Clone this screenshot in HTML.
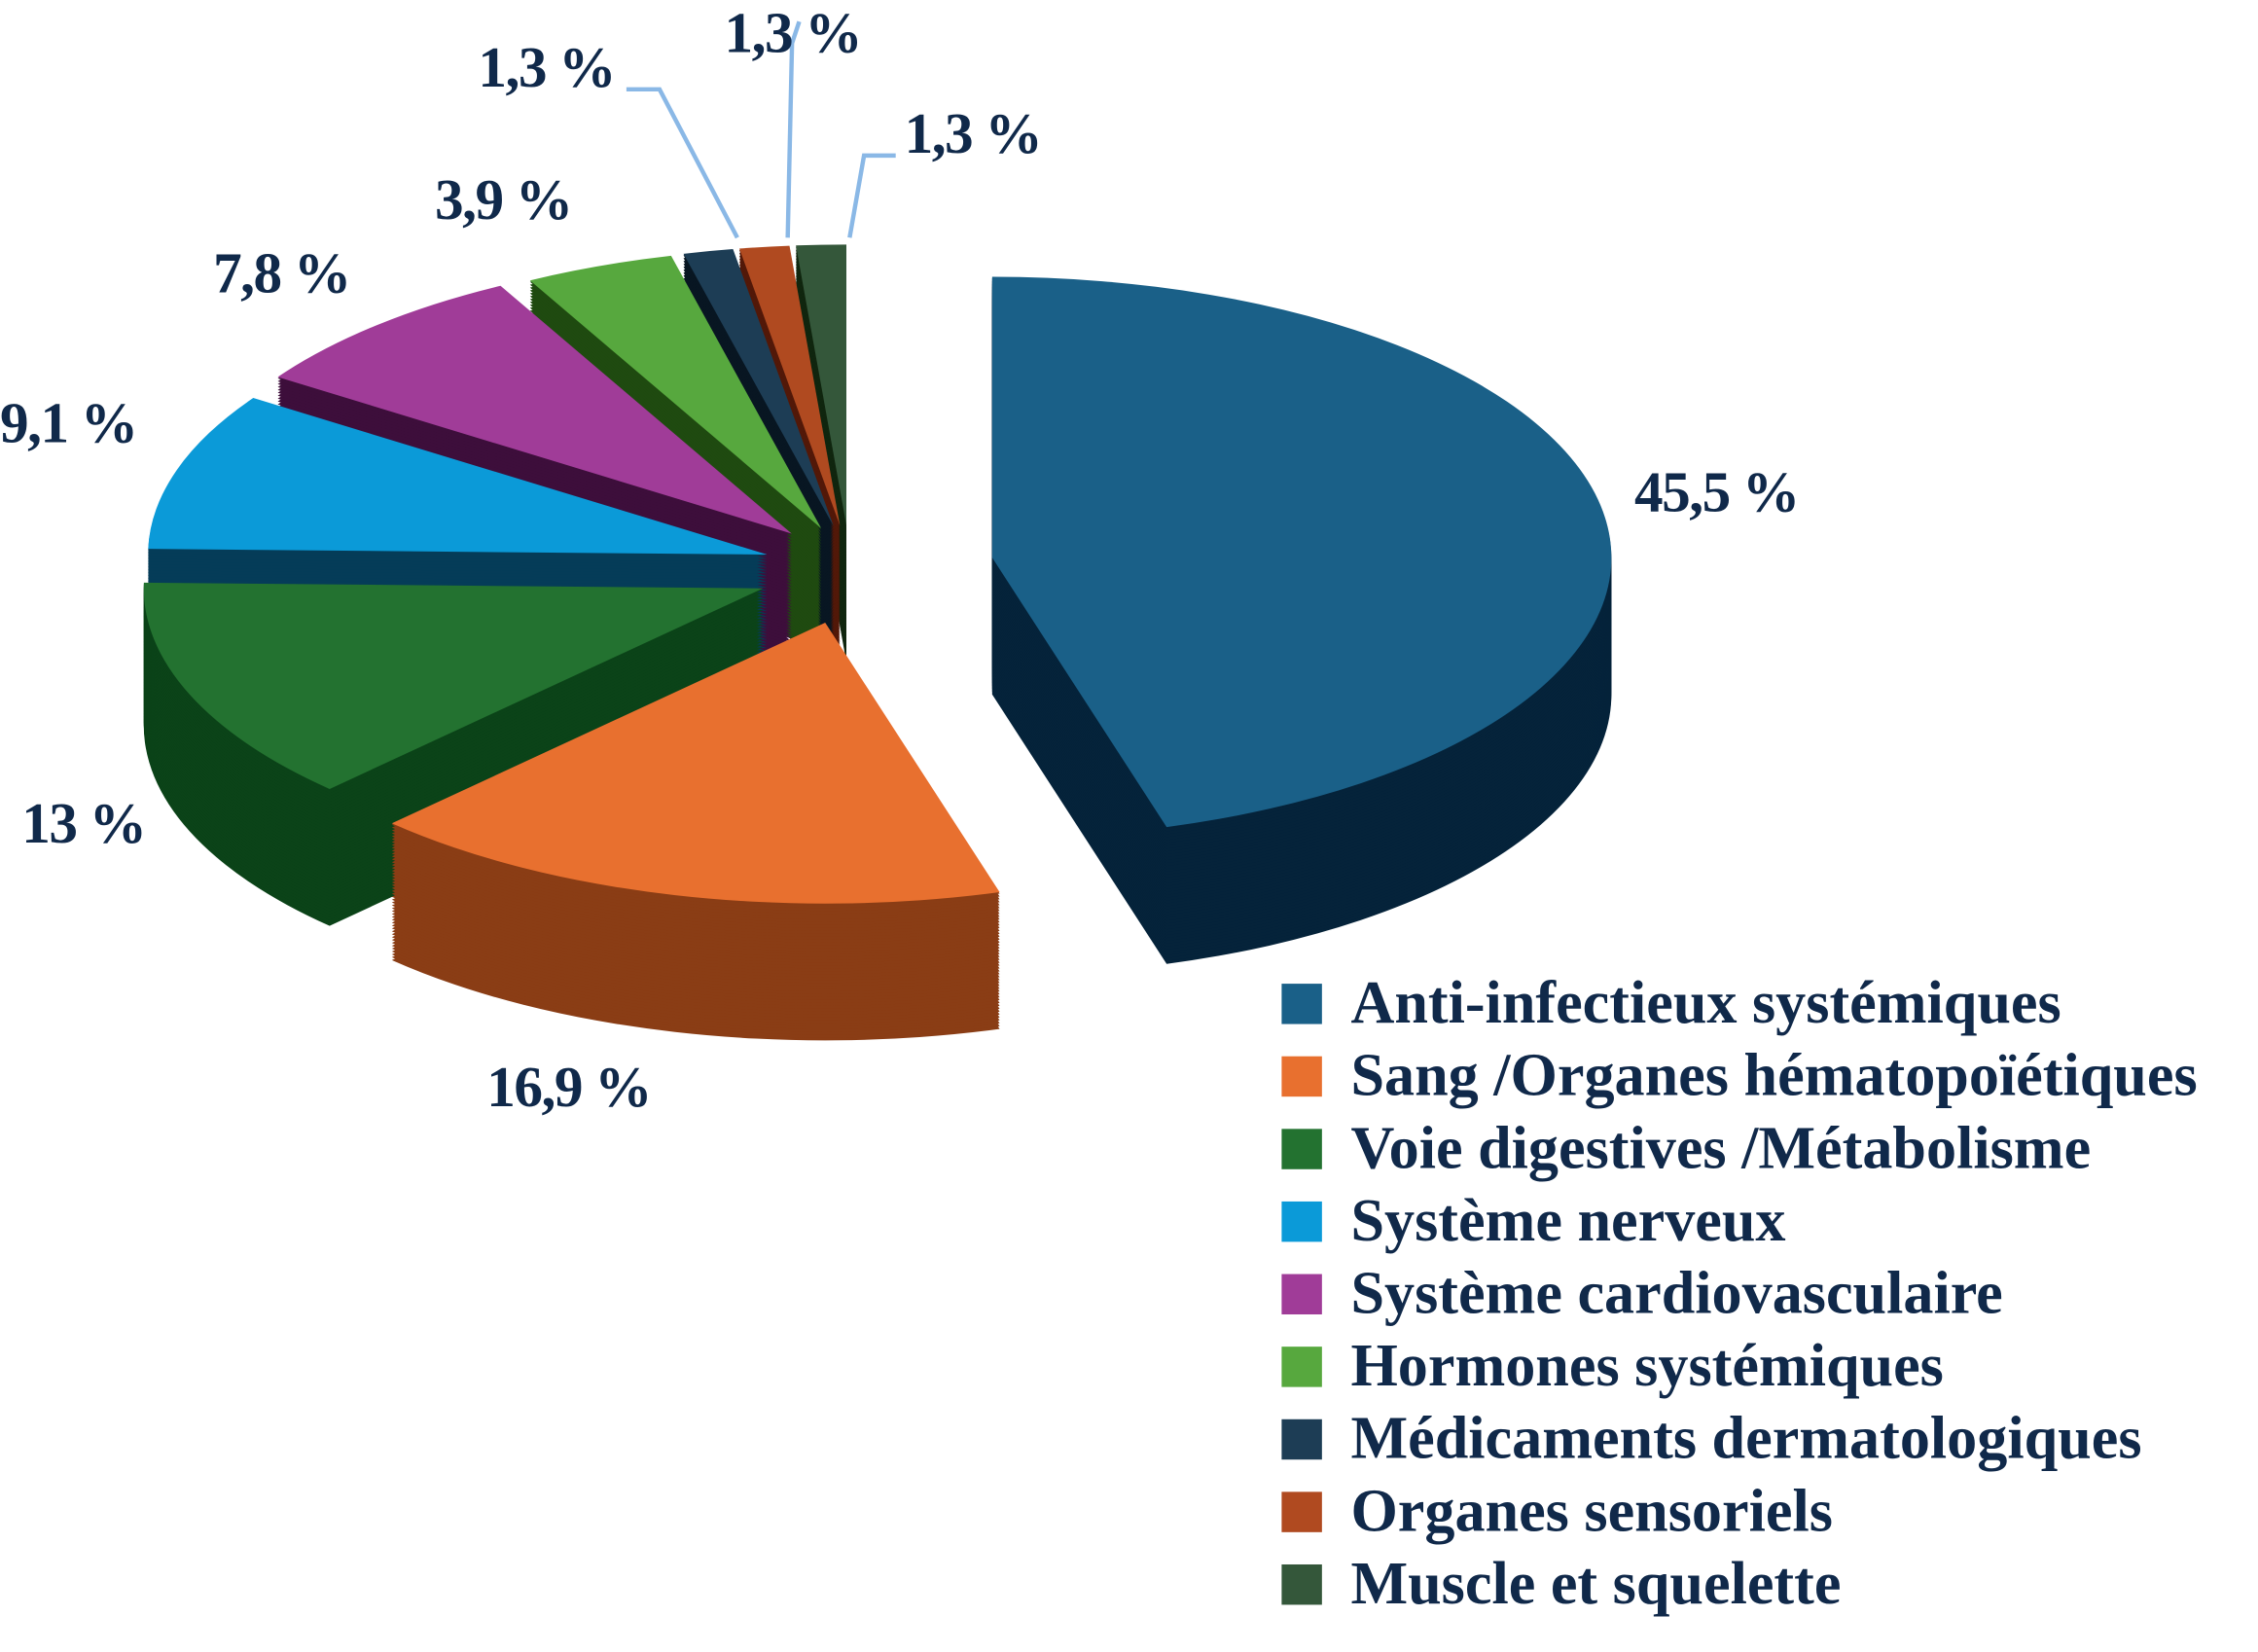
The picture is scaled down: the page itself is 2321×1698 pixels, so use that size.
<!DOCTYPE html>
<html><head><meta charset="utf-8"><style>
html,body{margin:0;padding:0;background:#fff;}
svg{display:block;}
text{font-family:"Liberation Serif",serif;font-weight:bold;fill:#10294a;}
</style></head><body>
<svg id="chart" width="2321" height="1698" viewBox="0 0 1568 1147" preserveAspectRatio="none" xmlns="http://www.w3.org/2000/svg">
<g id="pie"></g>
<g id="labels"></g>
<g id="legend"></g>
</svg>
<script>
const categories = ["Anti-infectieux systémiques","Sang /Organes hématopoïétiques","Voie digestives /Métabolisme","Système nerveux","Système cardiovasculaire","Hormones systémiques","Médicaments dermatologiques","Organes sensoriels","Muscle et squelette"];
const values = [45.5,16.9,13,9.1,7.8,3.9,1.3,1.3,1.3];
const valueLabels = ["45,5 %","16,9 %","13 %","9,1 %","7,8 %","3,9 %","1,3 %","1,3 %","1,3 %"];
const topColors = ["#1a6088","#e8702f","#237230","#0b9ad8","#a03c98","#57a83e","#1d3d55","#b04a20","#34573a"];
const sideColors = ["#05233a","#8a3d15","#0b4318","#053c58","#3d0e3b","#1f4a10","#081622","#521808","#10260f"];
const NS="http://www.w3.org/2000/svg";
const cx=590, cy=395, rx=430, ry=195, depth=95;
const explode=[100,70,65,60,60,55,55,55,55];
const total=values.reduce((a,b)=>a+b,0);
function pt(t,ox,oy,dy){return [cx+ox+rx*Math.sin(t), cy+oy+dy-ry*Math.cos(t)];}
function wedge(a0,a1,ox,oy,dy){
  const p0=pt(a0,ox,oy,dy), p1=pt(a1,ox,oy,dy);
  const large=(a1-a0)>Math.PI?1:0;
  return `M${cx+ox},${cy+oy+dy} L${p0[0]},${p0[1]} A${rx},${ry} 0 ${large} 1 ${p1[0]},${p1[1]} Z`;
}
const pie=document.getElementById('pie');
let acc=0; const slices=[];
values.forEach((v,i)=>{
  const a0=acc/total*2*Math.PI; acc+=v; const a1=acc/total*2*Math.PI;
  const m=(a0+a1)/2;
  slices.push({i,a0,a1,m,ox:explode[i]*Math.sin(m),oy:explode[i]*0.55*-Math.cos(m)});
});
const order=slices.slice().sort((a,b)=>(-Math.cos(a.m))-(-Math.cos(b.m)));
order.forEach(s=>{
  const g=document.createElementNS(NS,'g');
  
  
  for(let d=depth; d>0; d-=2){
    const p=document.createElementNS(NS,'path');
    p.setAttribute('d',wedge(s.a0,s.a1,s.ox,s.oy,d));
    p.setAttribute('fill',sideColors[s.i]);
    g.appendChild(p);
  }
  const top=document.createElementNS(NS,'path');
  top.setAttribute('d',wedge(s.a0,s.a1,s.ox,s.oy,0));
  top.setAttribute('fill',topColors[s.i]);
  
  
  g.appendChild(top);
  pie.appendChild(g);
});
const labelPos=[[1135,355],[338,768],[15,585],[0,307],[148,203],[302,152],[332,60],[503,36],[628,106]];
const leaders=[null,null,null,null,null,null,"M435,62 L458,62 L512,165","M555,15 L550,30 L547,165","M622,108 L600,108 L590,165"];
const lg=document.getElementById('labels');
valueLabels.forEach((t,i)=>{
  if(leaders[i]){
    const l=document.createElementNS(NS,'path');
    l.setAttribute('d',leaders[i]);
    l.setAttribute('stroke','#8ab8e6');l.setAttribute('stroke-width','3');l.setAttribute('fill','none');
    
    
    lg.appendChild(l);
  }
  const e=document.createElementNS(NS,'text');
  e.setAttribute('x',labelPos[i][0]);e.setAttribute('y',labelPos[i][1]);
  e.setAttribute('font-size','40');
  e.setAttribute('letter-spacing','-1');
  e.textContent=t;
  
  
  lg.appendChild(e);
});
const leg=document.getElementById('legend');
categories.forEach((c,i)=>{
  const y=683+i*50.4;
  const r=document.createElementNS(NS,'rect');
  r.setAttribute('x',890);r.setAttribute('y',y);r.setAttribute('width',28);r.setAttribute('height',28);
  r.setAttribute('fill',topColors[i]);
  
  
  leg.appendChild(r);
  const t=document.createElementNS(NS,'text');
  t.setAttribute('x',938);t.setAttribute('y',y+27);t.setAttribute('font-size','42');
  t.textContent=c;
  
  
  leg.appendChild(t);
});
</script>
</body></html>
